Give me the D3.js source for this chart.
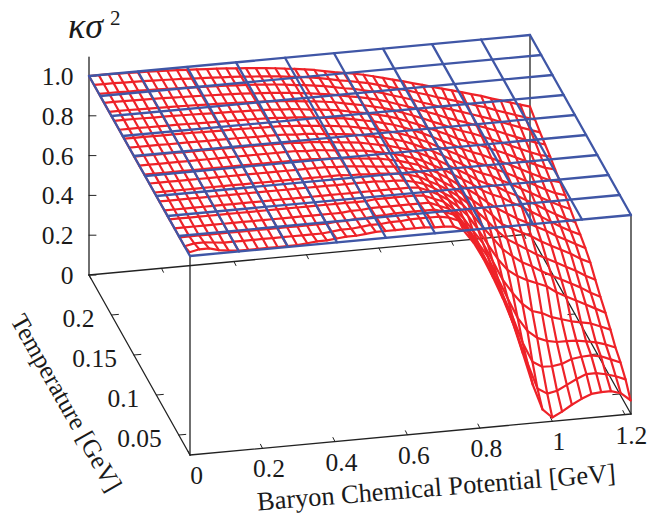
<!DOCTYPE html>
<html>
<head>
<meta charset="utf-8">
<script src="https://cdn.jsdelivr.net/npm/d3@7"></script>
<style>
  html, body { margin: 0; padding: 0; background: #fff; }
  text { font-family: "Liberation Serif", serif; fill: #1a1a1a; }
</style>
</head>
<body>
<div class="chart"></div>
<script>
// Tick labels
var muTicks = [0, 0.2, 0.4, 0.6, 0.8, 1, 1.2];
var muLabels = ["0", "0.2", "0.4", "0.6", "0.8", "1", "1.2"];
var tempTicks = [0.05, 0.1, 0.15, 0.2];
var tempLabels = ["0.05", "0.1", "0.15", "0.2"];
var zTicks = [0, 0.2, 0.4, 0.6, 0.8, 1];
var zLabels = ["0", "0.2", "0.4", "0.6", "0.8", "1.0"];

// Blue plane at z = 1
var planeMu = [0, 0.1352, 0.2704, 0.4057, 0.5409, 0.6761, 0.8113, 0.9466, 1.0818, 1.217];
var planeTemp = [0.025, 0.05, 0.075, 0.1, 0.125, 0.15, 0.175, 0.2, 0.225, 0.25];

// Red surface grid
var gridMu = [0, 0.027, 0.054, 0.081, 0.108, 0.135, 0.162, 0.189, 0.216, 0.243,
    0.27, 0.297, 0.325, 0.352, 0.379, 0.406, 0.433, 0.46, 0.487, 0.514,
    0.541, 0.568, 0.595, 0.622, 0.649, 0.676, 0.703, 0.73, 0.757, 0.784,
    0.811, 0.838, 0.865, 0.892, 0.92, 0.947, 0.974, 1.001, 1.028, 1.055,
    1.082, 1.109, 1.136, 1.163, 1.19, 1.217];
var gridTemp = [0.026, 0.0372, 0.0484, 0.0596, 0.0708, 0.082, 0.0932, 0.1044, 0.1156, 0.1268,
    0.138, 0.1492, 0.1604, 0.1716, 0.1828, 0.194, 0.2052, 0.2164, 0.2276, 0.2388, 0.25];

// kappa sigma^2, one row per gridTemp value, one entry per gridMu value
var kappaSigma2 = [
[1.015,1.025,1.025,1.012,1.005,1,1,1,1,1,1,1,1.005,1.01,1.01,1.015,1.02,1.02,1.025,1.03,1.03,1.03,1.03,1.03,1.03,1.025,1.025,1.02,0.995,0.93,0.845,0.745,0.635,0.51,0.35,0.19,0.06,0.015,0.04,0.07,0.095,0.115,0.12,0.12,0.105,0.065],
[1,1.01,1.01,1.005,1,1,1,1,1,1,1,1,1,1,1,1.005,1.01,1.01,1.015,1.02,1.02,1.025,1.025,1.03,1.03,1.03,1.03,1.02,1,0.935,0.85,0.76,0.66,0.535,0.39,0.25,0.12,0.09,0.1,0.125,0.15,0.17,0.17,0.16,0.145,0.125],
[1,1,1,1,1,1,1,1,1,1,1,1,1,1,1,1,1.005,1.005,1.01,1.01,1.015,1.015,1.02,1.02,1.02,1.02,1.02,1.005,0.985,0.93,0.855,0.77,0.68,0.56,0.44,0.31,0.21,0.18,0.178,0.185,0.205,0.212,0.214,0.205,0.185,0.165],
[1,1,1,1,1,1,1,1,1,1,1,1,1,1,1,1,1,1,1.005,1.005,1.01,1.01,1.01,1.01,1.01,1.01,1.01,0.99,0.97,0.925,0.86,0.785,0.71,0.6,0.49,0.39,0.32,0.28,0.26,0.25,0.25,0.248,0.24,0.23,0.215,0.195],
[1,1,1,1,1,1,1,1,1,1,1,1,1,1,1,1,1,1,1,1,1,1.005,1.005,1.005,1.005,1.005,1,0.98,0.96,0.92,0.87,0.8,0.735,0.64,0.54,0.47,0.41,0.37,0.355,0.33,0.315,0.3,0.29,0.28,0.26,0.24],
[1,1,1,1,1,1,1,1,1,1,1,1,1,1,1,1,1,1,1,1,1,1,1,1,1,1,0.995,0.975,0.95,0.92,0.88,0.83,0.76,0.68,0.6,0.54,0.505,0.48,0.46,0.44,0.405,0.38,0.355,0.33,0.305,0.28],
[1,1,1,1,1,1,1,1,1,1,1,1,1,1,1,1,1,1,1,1,1,1,1,0.995,0.995,0.99,0.98,0.965,0.94,0.91,0.88,0.84,0.785,0.72,0.66,0.6,0.56,0.525,0.5,0.47,0.445,0.42,0.395,0.37,0.34,0.315],
[1,1,1,1,1,1,1,1,1,1,1,1,1,1,1,1,1,1,1,1,0.995,0.995,0.99,0.99,0.985,0.98,0.97,0.955,0.93,0.905,0.875,0.84,0.8,0.75,0.7,0.645,0.6,0.57,0.54,0.51,0.485,0.46,0.435,0.41,0.38,0.355],
[1,1,1,1,1,1,1,1,1,1,1,1,1,1,1,1,1,1,1,0.995,0.995,0.99,0.985,0.98,0.975,0.97,0.96,0.945,0.925,0.9,0.87,0.84,0.8,0.765,0.725,0.68,0.63,0.605,0.58,0.555,0.525,0.5,0.475,0.45,0.42,0.397],
[1,1,1,1,1,1,1,1,1,1,1,1,1,1,1,1,1,1,0.995,0.995,0.99,0.985,0.98,0.975,0.97,0.96,0.95,0.935,0.92,0.895,0.87,0.84,0.805,0.775,0.74,0.7,0.665,0.635,0.605,0.58,0.555,0.53,0.5,0.475,0.45,0.425],
[1,1,1,1,1,1,1,1,1,1,1,1,1,1,1,1,1,0.995,0.995,0.99,0.985,0.98,0.975,0.97,0.96,0.95,0.94,0.925,0.91,0.89,0.865,0.84,0.81,0.78,0.75,0.715,0.69,0.67,0.64,0.615,0.585,0.556,0.525,0.496,0.47,0.447],
[1,1,1,1,1,0.999,0.999,0.999,0.999,0.999,0.998,0.998,0.998,0.997,0.997,0.997,0.996,0.991,0.991,0.986,0.981,0.976,0.971,0.965,0.955,0.945,0.935,0.921,0.907,0.887,0.864,0.84,0.812,0.783,0.755,0.722,0.698,0.679,0.65,0.626,0.598,0.57,0.541,0.513,0.488,0.465],
[1,1,1,1,0.999,0.999,0.999,0.998,0.998,0.998,0.997,0.997,0.996,0.995,0.995,0.994,0.993,0.988,0.987,0.982,0.977,0.972,0.967,0.961,0.951,0.941,0.931,0.918,0.904,0.885,0.863,0.84,0.814,0.787,0.76,0.729,0.706,0.688,0.661,0.638,0.611,0.585,0.557,0.531,0.507,0.486],
[1,1,1,0.999,0.999,0.999,0.998,0.998,0.997,0.996,0.995,0.995,0.994,0.993,0.992,0.991,0.99,0.985,0.983,0.978,0.973,0.968,0.962,0.956,0.946,0.936,0.927,0.914,0.9,0.882,0.861,0.84,0.815,0.79,0.765,0.736,0.714,0.696,0.671,0.649,0.624,0.6,0.573,0.548,0.525,0.51],
[1,1,1,0.999,0.999,0.998,0.998,0.997,0.996,0.995,0.994,0.993,0.992,0.991,0.99,0.988,0.986,0.982,0.98,0.975,0.969,0.964,0.958,0.952,0.942,0.932,0.923,0.91,0.897,0.88,0.86,0.84,0.817,0.793,0.77,0.743,0.723,0.705,0.682,0.661,0.638,0.614,0.589,0.566,0.544,0.53],
[1,1,1,0.999,0.998,0.998,0.997,0.996,0.995,0.994,0.992,0.991,0.99,0.988,0.987,0.985,0.983,0.978,0.976,0.971,0.965,0.96,0.954,0.947,0.937,0.927,0.918,0.906,0.894,0.878,0.859,0.84,0.819,0.797,0.775,0.75,0.731,0.714,0.692,0.672,0.651,0.628,0.605,0.583,0.562,0.55],
[1,1,1,0.999,0.998,0.997,0.996,0.995,0.994,0.993,0.991,0.99,0.988,0.986,0.984,0.982,0.98,0.975,0.972,0.967,0.961,0.956,0.95,0.943,0.933,0.923,0.914,0.903,0.891,0.876,0.858,0.84,0.821,0.8,0.78,0.757,0.739,0.723,0.703,0.684,0.664,0.642,0.621,0.6,0.581,0.57],
[1,1,1,0.999,0.998,0.997,0.996,0.994,0.993,0.992,0.99,0.988,0.986,0.984,0.982,0.979,0.976,0.972,0.968,0.963,0.957,0.952,0.945,0.938,0.928,0.918,0.91,0.899,0.887,0.873,0.856,0.84,0.822,0.803,0.785,0.764,0.747,0.731,0.713,0.695,0.677,0.656,0.637,0.617,0.6,0.585],
[1,1,1,0.998,0.998,0.996,0.995,0.994,0.992,0.99,0.988,0.986,0.984,0.982,0.979,0.976,0.973,0.969,0.965,0.96,0.953,0.948,0.941,0.934,0.924,0.914,0.906,0.895,0.884,0.871,0.855,0.84,0.824,0.806,0.79,0.771,0.756,0.74,0.724,0.707,0.691,0.671,0.653,0.635,0.618,0.601],
[1,1,1,0.998,0.997,0.996,0.994,0.993,0.991,0.989,0.986,0.984,0.982,0.979,0.976,0.973,0.969,0.965,0.961,0.956,0.949,0.944,0.937,0.929,0.919,0.909,0.901,0.891,0.881,0.868,0.854,0.84,0.826,0.81,0.795,0.778,0.764,0.749,0.734,0.718,0.704,0.685,0.669,0.652,0.636,0.62],
[1,1,1,0.998,0.997,0.995,0.994,0.992,0.99,0.988,0.985,0.983,0.98,0.977,0.974,0.97,0.966,0.962,0.957,0.952,0.945,0.94,0.933,0.925,0.915,0.905,0.897,0.888,0.878,0.866,0.853,0.84,0.828,0.813,0.8,0.785,0.772,0.758,0.745,0.73,0.717,0.7,0.685,0.67,0.655,0.64]
];

var svgWidth = 649;
var svgHeight = 517;

var svg = d3.select(".chart")
    .append("svg")
    .attr("width", svgWidth)
    .attr("height", svgHeight)
    .style("display", "block");

// Oblique projection, front corner of the floor at (190, 455)
var muX = d3.scaleLinear().domain([0, 1.217]).range([190, 631]);
var muY = d3.scaleLinear().domain([0, 1.217]).range([0, -41]);
var tempX = d3.scaleLinear().domain([0.025, 0.25]).range([0, -101]);
var tempY = d3.scaleLinear().domain([0.025, 0.25]).range([455, 275]);
var zY = d3.scaleLinear().domain([0, 1]).range([0, -199]);

function px(mu, temp) { return muX(mu) + tempX(temp); }
function py(mu, temp, z) { return tempY(temp) + muY(mu) + zY(z); }

var line = d3.line().x(d => d[0]).y(d => d[1]);

function drawLine(group, points, color, w) {
    group.append("path")
        .attr("d", line(points))
        .attr("fill", "none")
        .attr("stroke", color)
        .attr("stroke-width", w)
        .attr("stroke-linejoin", "round")
        .attr("stroke-linecap", "round");
}

// Box
var muMax = muX.domain()[1];
var tMin = tempX.domain()[0];
var tMax = tempX.domain()[1];
var axes = svg.append("g");
var black = "#222";
function seg(mu0, t0, z0, mu1, t1, z1) {
    drawLine(axes, [[px(mu0, t0), py(mu0, t0, z0)], [px(mu1, t1), py(mu1, t1, z1)]], black, 1.3);
}
seg(0, tMax, 0, muMax, tMax, 0);
seg(0, tMin, 0, muMax, tMin, 0);
seg(0, tMin, 0, 0, tMax, 0);
seg(muMax, tMin, 0, muMax, tMax, 0);
seg(0, tMax, 0, 0, tMax, 1.095);
seg(0, tMin, 0, 0, tMin, 1);
seg(muMax, tMax, 0, muMax, tMax, 1);
seg(muMax, tMin, 0, muMax, tMin, 1);

// Ticks
muTicks.forEach(function(m) {
    drawLine(axes, [[px(m, tMin), py(m, tMin, 0)], [px(m, tMin) - 2, py(m, tMin, 0) - 4]], black, 1);
    drawLine(axes, [[px(m, tMax), py(m, tMax, 0)], [px(m, tMax) + 2, py(m, tMax, 0) + 4]], black, 1);
});
tempTicks.forEach(function(t) {
    drawLine(axes, [[px(0, t), py(0, t, 0)], [px(0, t) + 7, py(0, t, 0) - 0.6]], black, 1);
    drawLine(axes, [[px(muMax, t), py(muMax, t, 0)], [px(muMax, t) - 7, py(muMax, t, 0) + 0.6]], black, 1);
});
zTicks.forEach(function(z) {
    drawLine(axes, [[px(0, tMax), py(0, tMax, z)], [px(0, tMax) + 7, py(0, tMax, z)]], black, 1);
});

// Red surface
var red = "#ee2228";
var surface = svg.append("g");
kappaSigma2.forEach(function(row, i) {
    drawLine(surface, row.map((z, j) => [px(gridMu[j], gridTemp[i]), py(gridMu[j], gridTemp[i], z)]), red, 2.2);
});
gridMu.forEach(function(m, j) {
    drawLine(surface, gridTemp.map((t, i) => [px(m, t), py(m, t, kappaSigma2[i][j])]), red, 2.2);
});

// Blue plane
var blue = "#3f56a6";
var plane = svg.append("g");
planeMu.forEach(function(m) {
    drawLine(plane, [[px(m, tMin), py(m, tMin, 1)], [px(m, tMax), py(m, tMax, 1)]], blue, 2.3);
});
planeTemp.forEach(function(t) {
    drawLine(plane, [[px(0, t), py(0, t, 1)], [px(muMax, t), py(muMax, t, 1)]], blue, 2.3);
});

// Labels
var labelSize = 25.5;
svg.selectAll(".mu-label").data(muTicks).enter().append("text")
    .attr("class", "mu-label")
    .attr("x", d => px(d, tMin) + 6.5)
    .attr("y", d => py(d, tMin, 0) + 29)
    .attr("text-anchor", "middle")
    .attr("font-size", labelSize)
    .text((d, i) => muLabels[i]);
svg.selectAll(".t-label").data(tempTicks).enter().append("text")
    .attr("class", "t-label")
    .attr("x", d => px(0, d) - 17)
    .attr("y", d => py(0, d, 0) + 12)
    .attr("text-anchor", "end")
    .attr("font-size", labelSize)
    .text((d, i) => tempLabels[i]);
svg.selectAll(".z-label").data(zTicks).enter().append("text")
    .attr("class", "z-label")
    .attr("x", 73.5)
    .attr("y", d => py(0, tMax, d) + 9)
    .attr("text-anchor", "end")
    .attr("font-size", labelSize)
    .text((d, i) => zLabels[i]);

svg.append("text")
    .attr("transform", "translate(437, 496) rotate(-4.6)")
    .attr("text-anchor", "middle")
    .attr("font-size", 26.4)
    .text("Baryon Chemical Potential [GeV]");
svg.append("text")
    .attr("transform", "translate(59, 407) rotate(60.5)")
    .attr("text-anchor", "middle")
    .attr("font-size", 25.4)
    .text("Temperature [GeV]");

// Title
svg.append("text")
    .attr("x", 68)
    .attr("y", 38)
    .attr("font-size", 36)
    .attr("font-style", "italic")
    .text("κσ");
svg.append("text")
    .attr("x", 110)
    .attr("y", 25)
    .attr("font-size", 21)
    .text("2");
</script>
</body>
</html>
